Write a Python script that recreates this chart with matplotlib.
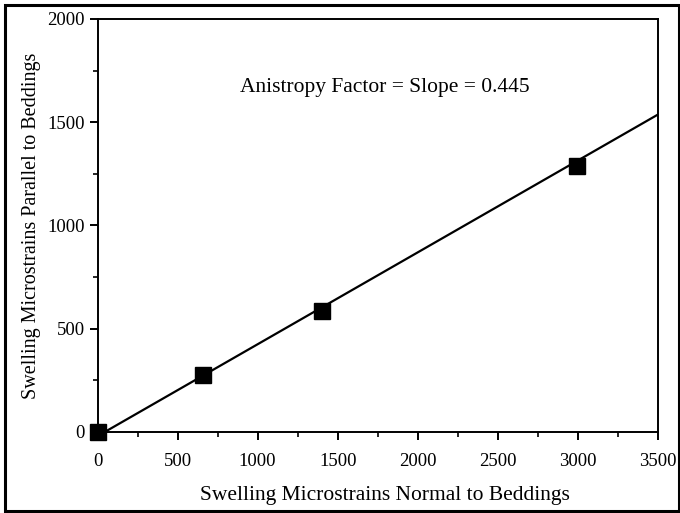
import numpy as np
import matplotlib.pyplot as plt
from matplotlib.patches import Rectangle
from matplotlib.ticker import MultipleLocator

plt.rcParams['font.family'] = ['Liberation Serif', 'DejaVu Serif']

# swelling measurements (microstrains)
normal = [0, 660, 1400, 2995]
parallel = [0, 278, 588, 1290]

# fitted line
slope = 0.445
intercept = -20

fig = plt.figure(figsize=(6.8, 5.13), dpi=100)
ax = fig.add_axes([97.5 / 680, 81 / 513, 560.5 / 680, 413 / 513])

xs = np.array([0, 3500])
ax.plot(xs, slope * xs + intercept, color='black', lw=1.6, zorder=2)
ax.plot(normal, parallel, 's', color='black', ms=11, zorder=3, clip_on=False)

ax.set_xlim(0, 3500)
ax.set_ylim(0, 2000)
ax.xaxis.set_major_locator(MultipleLocator(500))
ax.xaxis.set_minor_locator(MultipleLocator(250))
ax.yaxis.set_major_locator(MultipleLocator(500))
ax.yaxis.set_minor_locator(MultipleLocator(250))
ax.tick_params(which='major', direction='out', length=6, width=1.4, labelsize=13.5)
ax.tick_params(axis='x', which='major', pad=9)
ax.tick_params(axis='y', which='major', pad=3)
ax.tick_params(which='minor', direction='out', length=3.5, width=1.2)
for s in ax.spines.values():
    s.set_linewidth(1.4)

ax.set_xlabel('Swelling Microstrains Normal to Beddings', fontsize=15.5)
ax.xaxis.set_label_coords(0.512, -0.131)
ax.set_ylabel('Swelling Microstrains Parallel to Beddings', fontsize=14.5, labelpad=5)

ax.text(0.512, 0.835, 'Anistropy Factor = Slope = 0.445', transform=ax.transAxes,
        ha='center', va='center', fontsize=15.5)

# frame around the whole figure
fig.patches.append(Rectangle((4.5 / 680, 2 / 513), 674 / 680, 506.5 / 513,
                             transform=fig.transFigure, fill=False,
                             edgecolor='black', lw=2.2))

fig.savefig('out.png', dpi=100)
